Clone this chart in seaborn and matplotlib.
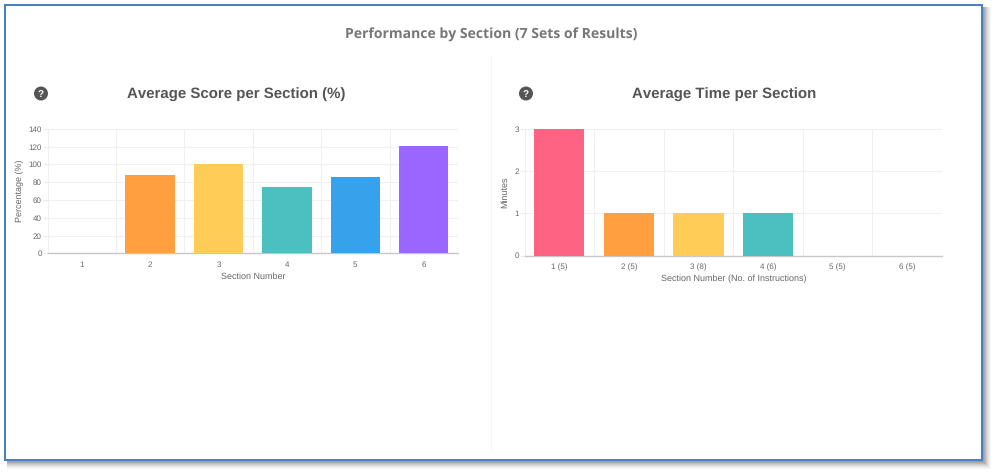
import matplotlib
matplotlib.use("Agg")
import matplotlib.pyplot as plt
from matplotlib.patches import Rectangle, Ellipse
import seaborn as sns
import pandas as pd

sns.set_theme(style="white")
plt.rcParams['font.family'] = ['Liberation Sans', 'DejaVu Sans']
plt.rcParams['text.hinting'] = 'no_hinting'
plt.rcParams['text.hinting_factor'] = 1

page_title = "Performance by Section (7 Sets of Results)"
score_sections = ["1", "2", "3", "4", "5", "6"]
score_values = [0, 88, 100, 75, 86, 121]
time_sections = ["1 (5)", "2 (5)", "3 (8)", "4 (6)", "5 (5)", "6 (5)"]
time_values = [3, 1, 1, 1, 0, 0]
colors = ["#FF6384", "#FF9F40", "#FFCD56", "#4BC0C0", "#36A2EB", "#9966FF"]
W, H = 996, 474

fig = plt.figure(figsize=(W / 100, H / 100), dpi=100, facecolor="white")


def rect(x0, y0, x1, y1, **kw):
    fig.add_artist(Rectangle((x0 / W, 1 - y1 / H), (x1 - x0) / W, (y1 - y0) / H,
                             transform=fig.transFigure, **kw))


# soft frame shadow
for i, a in zip(range(8, 0, -1), [0.04, 0.05, 0.06, 0.08, 0.10, 0.12, 0.14, 0.16]):
    rect(7, 7, 983 + i, 461 + i, facecolor="#555555", edgecolor="none", alpha=a, zorder=0)
rect(4, 4, 983, 461, facecolor="white", edgecolor="none", zorder=0.5)
# blue frame
rect(5, 5, 982, 460, facecolor="none", edgecolor="#4a81c4", linewidth=1.45, zorder=1)
# divider
rect(491, 56, 492, 452, facecolor="#f5f5f5", edgecolor="none", zorder=1)


def panel(box, cats, vals, palette, title, title_x, xlabel, ylabel, ymax, step, icon_x, xlab_y, ylab_x):
    x0, y0, x1, y1 = box
    ax = fig.add_axes([x0 / W, 1 - y1 / H, (x1 - x0) / W, (y1 - y0) / H], facecolor="none", zorder=2)
    df = pd.DataFrame({"section": cats, "value": vals})
    sns.barplot(data=df, x="section", y="value", hue="section", palette=palette, order=cats,
                hue_order=cats, legend=False, width=0.72, saturation=1, ax=ax, zorder=3,
                edgecolor="none")
    ax.set_xlim(-0.5, 5.5)
    ax.set_ylim(0, ymax)
    ax.set_yticks(range(0, ymax + 1, step))
    ax.set_xticks([i + 0.5 for i in range(-1, 6)], minor=True)
    ax.grid(True, which="minor", axis="x", color="#f0f0f0", linewidth=0.8, zorder=0)
    ax.grid(True, which="major", axis="y", color="#f0f0f0", linewidth=0.8, zorder=0)
    ax.grid(False, which="major", axis="x")
    ax.tick_params(axis="x", which="minor", length=4, color="#ececec", width=0.8)
    ax.tick_params(axis="x", which="major", length=0, labelsize=5.6, labelcolor="#666666", pad=5.5)
    ax.tick_params(axis="y", which="major", length=3.5, color="#ececec", width=0.8,
                   labelsize=5.6, labelcolor="#666666", pad=0.5, left=True)
    for side, sp in ax.spines.items():
        sp.set_visible(side == "bottom")
    ax.spines["bottom"].set_color("#c8c8c8")
    ax.spines["bottom"].set_linewidth(1)
    ax.set_xlabel("")
    ax.set_ylabel("")
    fig.text((x0 + x1) / 2 / W, 1 - xlab_y / H, xlabel, ha="center", va="center", fontsize=6.75, color="#666666")
    fig.text(ylab_x / W, 1 - (y0 + y1) / 2 / H, ylabel, rotation=90, ha="center", va="center", fontsize=6.75, color="#666666")
    fig.text(title_x / W, 1 - 95 / H, title, ha="center", va="center", fontsize=11.05, fontweight="bold", color="#555555")
    fig.add_artist(Ellipse((icon_x / W, 1 - 93.5 / H), 14 / W, 14 / H, transform=fig.transFigure,
                           facecolor="#555555", edgecolor="none"))
    fig.text(icon_x / W, 1 - 94 / H, "?", ha="center", va="center", fontsize=7.5, fontweight="bold", color="white")


fig.text(491 / W, 1 - 35 / H, page_title, ha="center", va="center", fontsize=10.3,
         fontweight="bold", color="#777777", family=["Open Sans", "DejaVu Sans"])

panel((47.5, 128.7, 458, 253.5), score_sections, score_values, colors,
      "Average Score per Section (%)", 236.5, "Section Number", "Percentage (%)", 140, 20, 41, 277, 20)
panel((524.5, 128.7, 942, 255.5), time_sections, time_values, colors,
      "Average Time per Section", 724, "Section Number (No. of Instructions)", "Minutes", 3, 1, 526, 279, 505)

fig.savefig("out.png", dpi=100)
